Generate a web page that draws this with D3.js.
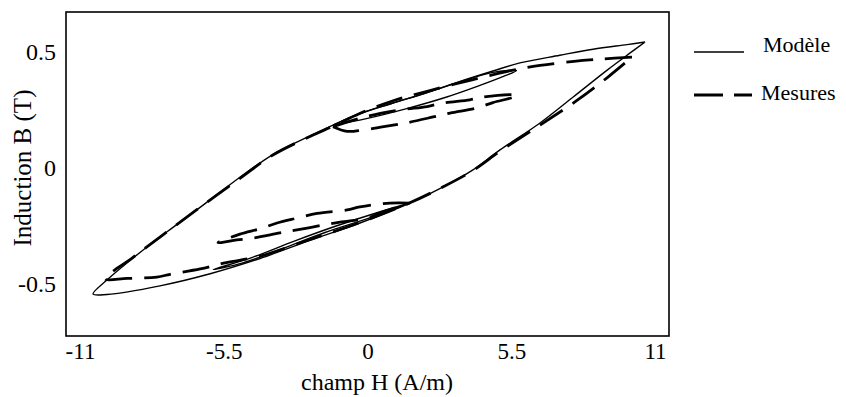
<!DOCTYPE html>
<html><head><meta charset="utf-8">
<script src="https://cdn.jsdelivr.net/npm/d3@7"></script>
<style>body{margin:0;background:#fff}svg{display:block}text{font-family:"Liberation Serif","Times New Roman",serif;fill:#000}</style>
</head><body><svg id="c" width="846" height="397"></svg>
<script>
const xTicks = [-11, -5.5, 0, 5.5, 11];
const yTicks = [0.5, 0, -0.5];
const xTickLabels = ["-11", "-5.5", "0", "5.5", "11"];
const yTickLabels = ["0.5", "0", "-0.5"];
const legendLabels = ["Modèle", "Mesures"];

// Modèle : major loop (descending branch then ascending branch), [H, B]
const modelDescending = [[10.62,0.543],[9.93,0.532],[8.63,0.512],[7.36,0.486],[5.83,0.453],[4.80,0.418],[3.54,0.373],[2.28,0.325],[0.98,0.280],[-0.29,0.235],[-1.32,0.185],[-2.08,0.145],[-3.62,0.058],[-4.88,-0.040],[-6.29,-0.160],[-7.67,-0.275],[-8.97,-0.388],[-9.97,-0.483],[-10.50,-0.543]];
const modelAscending = [[-10.50,-0.543],[-9.97,-0.545],[-7.94,-0.508],[-6.02,-0.456],[-4.11,-0.390],[-2.20,-0.312],[-0.29,-0.237],[1.62,-0.151],[2.88,-0.082],[4.02,-0.009],[5.07,0.078],[6.60,0.194],[7.87,0.306],[9.17,0.422],[10.05,0.496],[10.62,0.543]];
// Modèle : minor loops
const modelMinorUpper = [[-1.32,0.185],[0.0,0.214],[1.5,0.256],[3.0,0.305],[4.2,0.352],[5.2,0.395],[5.7,0.420],[4.8,0.412],[3.5,0.370],[2.2,0.322],[0.9,0.277],[-0.3,0.233],[-1.32,0.185]];
const modelMinorLower = [[1.62,-0.151],[0.3,-0.195],[-1.2,-0.250],[-2.8,-0.315],[-4.4,-0.385],[-5.9,-0.438],[-4.8,-0.410],[-3.2,-0.345],[-1.6,-0.277],[0.0,-0.218],[1.62,-0.151]];

// Mesures : major loop
const measDescending = [[10.12,0.478],[9.0,0.470],[7.9,0.460],[6.6,0.442],[5.57,0.422],[4.0,0.380],[2.39,0.334],[0.98,0.290],[-0.30,0.235],[-1.32,0.180],[-2.08,0.142],[-3.62,0.056],[-4.88,-0.045],[-6.29,-0.160],[-7.67,-0.275],[-8.97,-0.385],[-10.04,-0.478]];
const measAscending = [[-10.04,-0.478],[-9.2,-0.476],[-8.06,-0.470],[-7.55,-0.458],[-6.4,-0.435],[-5.4,-0.408],[-4.11,-0.380],[-2.20,-0.308],[-0.29,-0.235],[1.62,-0.150],[2.88,-0.082],[4.02,-0.012],[5.07,0.072],[6.60,0.185],[8.0,0.290],[9.2,0.392],[10.12,0.478]];
// Mesures : minor loops
const measMinorUpper = [[-1.32,0.178],[-0.78,0.158],[-0.17,0.164],[0.98,0.185],[1.51,0.195],[2.51,0.220],[3.16,0.237],[4.19,0.259],[4.80,0.282],[5.57,0.305],[5.72,0.315],[4.42,0.306],[3.92,0.294],[2.89,0.280],[2.28,0.265],[1.24,0.250],[-0.1,0.220],[-1.32,0.178]];
const measMinorLower = [[1.62,-0.151],[0.86,-0.151],[-0.29,-0.168],[-0.78,-0.181],[-1.93,-0.196],[-2.70,-0.216],[-3.46,-0.237],[-4.11,-0.262],[-4.88,-0.285],[-5.72,-0.322],[-5.0,-0.310],[-4.38,-0.302],[-3.35,-0.280],[-2.70,-0.267],[-1.70,-0.246],[-1.05,-0.233],[-0.02,-0.216],[0.48,-0.194],[1.62,-0.151]];

const svg = d3.select("#c");
const frame = {x0: 66, y0: 12, x1: 669, y1: 336};
const x = d3.scaleLinear().domain([-11, 11]).range([80, 655]);
const y = d3.scaleLinear().domain([-0.5, 0.5]).range([284, 52]);

svg.append("rect").attr("x", frame.x0).attr("y", frame.y0)
  .attr("width", frame.x1 - frame.x0).attr("height", frame.y1 - frame.y0)
  .attr("fill", "none").attr("stroke", "#000").attr("stroke-width", 1.6);

const xAxis = d3.axisBottom(x).tickValues(xTicks).tickSize(0).tickPadding(0)
  .tickFormat((d, i) => xTickLabels[i]);
const gx = svg.append("g").attr("transform", `translate(0,${frame.y1 + 6})`).call(xAxis);
gx.select(".domain").remove();
gx.selectAll("text").attr("font-family", '"Liberation Serif", serif').attr("font-size", 23).attr("fill", "#000").attr("dy", "0.75em");

const yAxis = d3.axisLeft(y).tickValues(yTicks).tickSize(0).tickPadding(0)
  .tickFormat((d, i) => yTickLabels[i]);
const gy = svg.append("g").attr("transform", `translate(56,0)`).call(yAxis);
gy.select(".domain").remove();
gy.selectAll("text").attr("font-family", '"Liberation Serif", serif').attr("font-size", 24).attr("fill", "#000");

svg.append("text").attr("x", 377).attr("y", 390).attr("text-anchor", "middle")
  .attr("font-size", 24).text("champ H (A/m)");
svg.append("text").attr("transform", "translate(31,168) rotate(-90)").attr("text-anchor", "middle")
  .attr("font-size", 25).text("Induction B (T)");

const line = d3.line().x(d => x(d[0])).y(d => y(d[1])).curve(d3.curveCatmullRom.alpha(0.5));
const g = svg.append("g").attr("fill", "none").attr("stroke", "#000").attr("stroke-linejoin", "round");

[modelDescending.concat(modelAscending.slice(1)), modelMinorUpper, modelMinorLower].forEach(pts => {
  g.append("path").attr("d", line(pts)).attr("stroke-width", 1.4);
});
[measDescending.concat(measAscending.slice(1)), measMinorUpper, measMinorLower].forEach(pts => {
  g.append("path").attr("d", line(pts)).attr("stroke-width", 2.8).attr("stroke-dasharray", "27,12");
});

// legend
const lg = svg.append("g");
lg.append("line").attr("x1", 694).attr("x2", 744).attr("y1", 52).attr("y2", 52).attr("stroke", "#000").attr("stroke-width", 1.3);
lg.append("line").attr("x1", 694).attr("x2", 752).attr("y1", 95).attr("y2", 95).attr("stroke", "#000").attr("stroke-width", 2.8).attr("stroke-dasharray", "29,11");
lg.append("text").attr("x", 763).attr("y", 52).attr("font-size", 22).text(legendLabels[0]);
lg.append("text").attr("x", 761).attr("y", 100).attr("font-size", 22).text(legendLabels[1]);
</script></body></html>
